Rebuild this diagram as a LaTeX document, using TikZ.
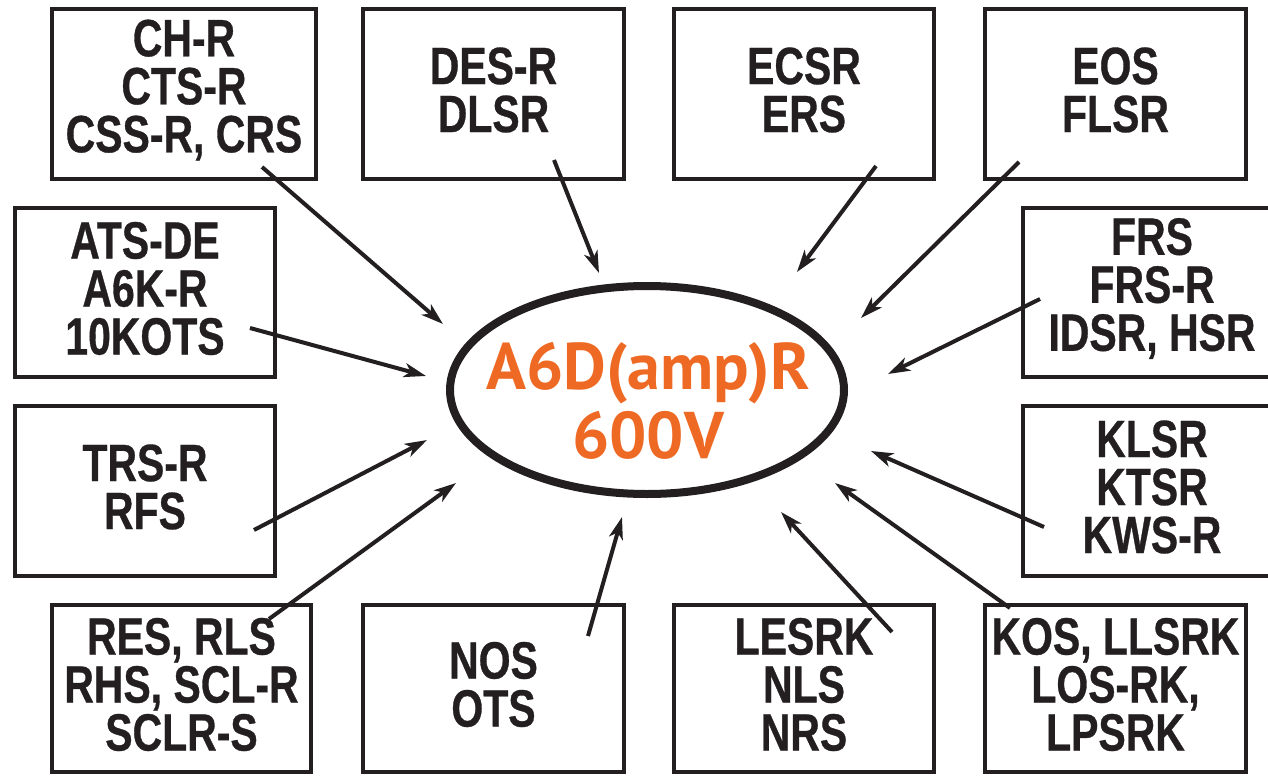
\documentclass[tikz,border=0pt]{standalone}
\usepackage{fontspec}
\usetikzlibrary{arrows.meta,shapes.geometric}
\newfontfamily\boxfont[FakeStretch=0.78,FakeBold=0.6]{Liberation Sans Bold}
\newfontfamily\ctrfont{PT Sans Bold}
\definecolor{ink}{HTML}{231F20}
\definecolor{orng}{HTML}{EE6A24}
\tikzset{
  boxn/.style={draw=ink, line width=4pt, inner sep=0pt, minimum width=#1},
  boxn/.default=260pt,
  txt/.style={text=ink, align=center, inner sep=0pt, font=\boxfont\fontsize{52.5}{48}\selectfont},
  ctr/.style={text=orng, inner sep=0pt, anchor=base, font=\ctrfont\fontsize{66}{69}\selectfont},
  arr/.style={draw=ink, line width=4pt, -{Stealth[length=22pt, width=14pt, inset=6pt]}},
}
\begin{document}
\begin{tikzpicture}[x=1pt, y=-1pt]
\useasboundingbox (0,0) rectangle (1268,776);
% boxes
\node[boxn=264pt, minimum height=170pt] (b1) at (184,94) {};
\node[boxn=261pt, minimum height=170pt] (b2) at (493.5,94) {};
\node[boxn=260pt, minimum height=170pt] (b3) at (804,94) {};
\node[boxn=261pt, minimum height=170pt] (b4) at (1115.5,94) {};
\node[boxn=258pt, minimum height=169pt] (b5) at (1152,292.5) {};
\node[boxn=260pt, minimum height=169pt] (b6) at (145,292.5) {};
\node[boxn=260pt, minimum height=170pt] (b7) at (145,491) {};
\node[boxn=258pt, minimum height=170pt] (b8) at (1152,491) {};
\node[boxn=259pt, minimum height=167pt] (b9) at (181.5,688.5) {};
\node[boxn=261pt, minimum height=167pt] (b10) at (493.5,688.5) {};
\node[boxn=260pt, minimum height=167pt] (b11) at (804,688.5) {};
\node[boxn=261pt, minimum height=167pt] (b12) at (1115.5,688.5) {};
% texts
\node[txt] (t1) at ([yshift=4pt]b1.center) {CH-R\\CTS-R\\CSS-R, CRS};
\node[txt] (t2) at ([yshift=4pt]b2.center) {DES-R\\DLSR};
\node[txt] (t3) at ([yshift=4pt]b3.center) {ECSR\\ERS};
\node[txt] (t4) at ([yshift=4pt]b4.center) {EOS\\FLSR};
\node[txt] (t5) at ([yshift=4pt]b5.center) {FRS\\FRS-R\\IDSR, HSR};
\node[txt] (t6) at ([yshift=4pt]b6.center) {ATS-DE\\A6K-R\\10KOTS};
\node[txt] (t7) at ([yshift=4pt]b7.center) {TRS-R\\RFS};
\node[txt] (t8) at ([yshift=4pt]b8.center) {KLSR\\KTSR\\KWS-R};
\node[txt] (t9) at ([yshift=4pt]b9.center) {RES, RLS\\RHS, SCL-R\\SCLR-S};
\node[txt] (t10) at ([yshift=4pt]b10.center) {NOS\\OTS};
\node[txt] (t11) at ([yshift=4pt]b11.center) {LESRK\\NLS\\NRS};
\node[txt] (t12) at ([yshift=4pt]b12.center) {KOS, LLSRK\\LOS-RK,\\LPSRK};
% centre ellipse
\node[draw=ink, line width=8pt, ellipse, minimum width=394pt, minimum height=208pt, inner sep=0pt] (el) at (647,390) {};
\node[ctr] (c1) at (648,389) {A6D(amp)R};
\node[ctr] (c2) at (648,458) {600V};
% arrow end points
\coordinate (s1) at (262,167);  \coordinate (e1) at (443,324);
\coordinate (s2) at (554,160);  \coordinate (e2) at (599,273);
\coordinate (s3) at (876,166);  \coordinate (e3) at (797,272);
\coordinate (s4) at (1019,162); \coordinate (e4) at (861,318);
\coordinate (s5) at (1040,299); \coordinate (e5) at (888,374);
\coordinate (s6) at (250,328);  \coordinate (e6) at (426,376);
\coordinate (s7) at (254,530);  \coordinate (e7) at (427,440);
\coordinate (s8) at (269,619);  \coordinate (e8) at (456,483);
\coordinate (s9) at (588,636);  \coordinate (e9) at (622,517);
\coordinate (s10) at (892,632); \coordinate (e10) at (781,512);
\coordinate (s11) at (1010,608); \coordinate (e11) at (835,483);
\coordinate (s12) at (1044,527); \coordinate (e12) at (871,451);
\foreach \i in {1,...,12} { \draw[arr] (s\i) -- (e\i); }
\end{tikzpicture}
\end{document}
